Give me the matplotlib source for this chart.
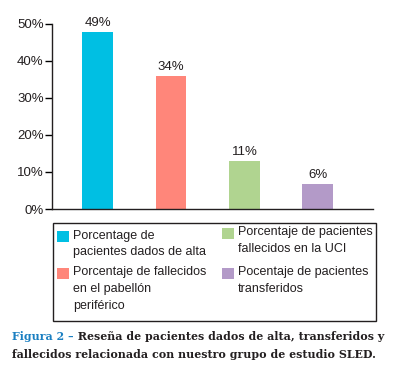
import matplotlib.pyplot as plt
from matplotlib.patches import Rectangle

# data
categories = ['Porcentage de\npacientes dados de alta',
              'Porcentaje de fallecidos\nen el pabellón\nperiférico',
              'Porcentaje de pacientes\nfallecidos en la UCI',
              'Pocentaje de pacientes\ntransferidos']
bar_heights = [47.7, 35.8, 12.9, 6.8]
bar_labels = ['49%', '34%', '11%', '6%']
colors = ['#00bfe3', '#ff867a', '#b0d490', '#b39ac8']
yticks = [0, 10, 20, 30, 40, 50]

plt.rcParams['font.family'] = ['Liberation Sans', 'DejaVu Sans']
plt.rcParams['font.size'] = 9

W, H = 400, 376
fig = plt.figure(figsize=(W / 100, H / 100), dpi=100)

# main bar axes (positions in pixels -> figure fraction)
ax = fig.add_axes([52 / W, 1 - 209 / H, (373 - 52) / W, (209 - 23.5) / H])
x = [0, 1, 2, 3]
ax.bar(x, bar_heights, width=0.42, color=colors)
for xi, h, lab in zip(x, bar_heights, bar_labels):
    ax.annotate(lab, (xi, h), xytext=(0, 2), textcoords='offset points',
                ha='center', va='bottom', fontsize=9.5, color='#231f20')

ax.set_xlim(-0.62, 3.75)
ax.set_ylim(0, 50)
ax.set_yticks(yticks)
ax.set_yticklabels([f'{t}%' for t in yticks])
ax.set_xticks([])
ax.tick_params(axis='y', length=5, width=1, pad=1, labelsize=9.5, labelcolor='#231f20')
ax.spines['top'].set_visible(False)
ax.spines['right'].set_visible(False)
for s in ['left', 'bottom']:
    ax.spines[s].set_linewidth(1)
    ax.spines[s].set_color('#231f20')

# legend box drawn by hand so the squares sit on the first text line
lax = fig.add_axes([52 / W, 1 - 321 / H, (376 - 52) / W, (321 - 222) / H])
lax.set_xlim(0, 324)
lax.set_ylim(99, 0)
lax.axis('off')
lax.add_patch(Rectangle((0.5, 0.5), 323, 98, fill=False, lw=1, ec='#231f20',
                        clip_on=False))

entry_pos = [(5, 15), (5, 52), (170, 12), (170, 52)]
for (ex, ey), lab, c in zip(entry_pos, categories, colors):
    lax.add_patch(Rectangle((ex, ey - 6), 12, 11, color=c, lw=0))
    lax.text(ex + 16, ey - 7.5, lab, va='top', ha='left', fontsize=9,
             color='#231f20', linespacing=1.5)

# caption
cap_font = dict(family='DejaVu Serif', weight='bold', fontsize=7.9)
cap1 = fig.text(12 / W, 1 - 340 / H, 'Figura 2 –', color='#1a7fc1', **cap_font)
fig.add_artist(plt.matplotlib.text.Annotation(
    ' Reseña de pacientes dados de alta, transferidos y', xy=(1, 0),
    xycoords=cap1, va='bottom', ha='left', color='#231f20', **cap_font))
fig.text(12 / W, 1 - 358 / H,
         'fallecidos relacionada con nuestro grupo de estudio SLED.',
         color='#231f20', **cap_font)

fig.savefig('out.png', dpi=100)
